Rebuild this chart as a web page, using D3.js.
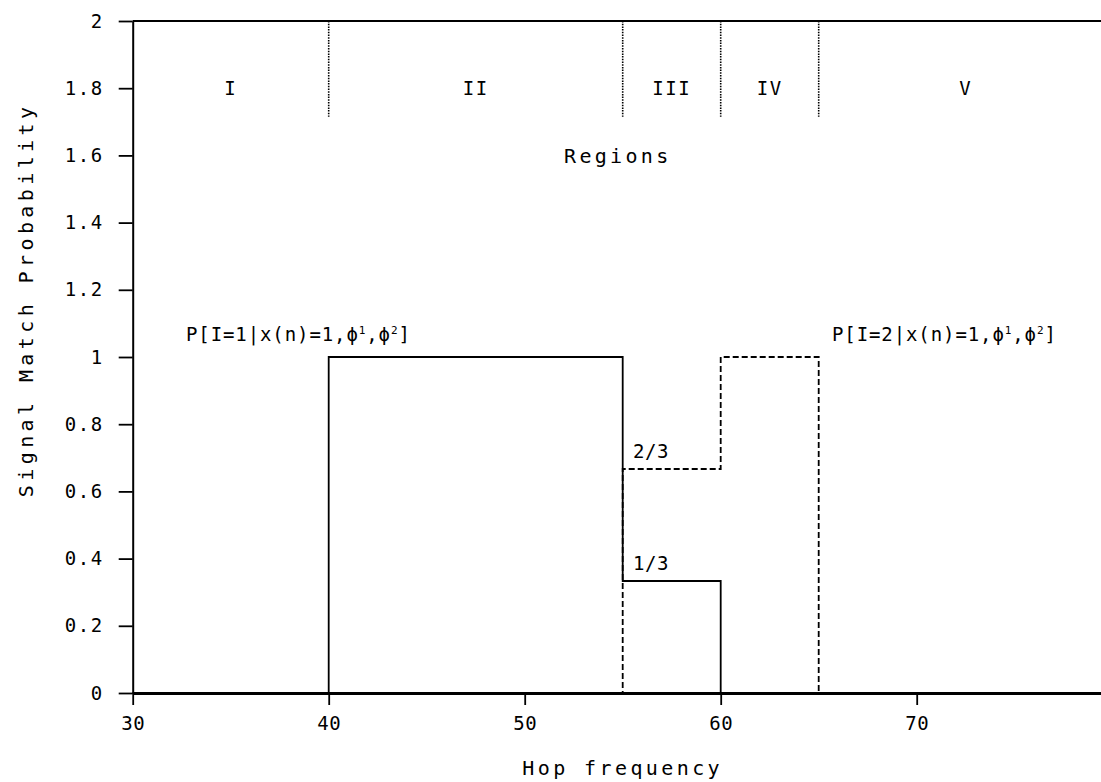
<!DOCTYPE html>
<html>
<head>
<meta charset="utf-8">
<script src="https://cdn.jsdelivr.net/npm/d3@7"></script>
<style>
  html, body { margin: 0; padding: 0; background: #fff; }
  svg { display: block; }
  text { font-family: "DejaVu Sans Mono", "Liberation Mono", monospace; fill: #000; }
</style>
</head>
<body>
<svg id="chart" width="1101" height="782"></svg>
<script>
// ---- data ----
const xDomain = [30, 80];
const yDomain = [0, 2];
const xTickValues = [30, 40, 50, 60, 70];
const yTickValues = [0, 0.2, 0.4, 0.6, 0.8, 1, 1.2, 1.4, 1.6, 1.8, 2];
const regionBounds = [40, 55, 60, 65];
const regionLabels = ["I", "II", "III", "IV", "V"];
const regionCenters = [35, 47.5, 57.5, 62.5, 72.5];
// P[I=1|...] step function (value holds from x until next x)
const series1X = [30, 40, 55, 60, 80];
const series1Y = [0, 1, 1/3, 0, 0];
// P[I=2|...]
const series2X = [30, 55, 60, 65, 80];
const series2Y = [0, 2/3, 1, 0, 0];
const fractionLabels = [
  { text: "2/3", x: 55.5, y: 2/3 },
  { text: "1/3", x: 55.5, y: 1/3 }
];

// ---- scales ----
const svg = d3.select("#chart");
const x = d3.scaleLinear().domain(xDomain).range([132.7, 1112.7]);
const y = d3.scaleLinear().domain(yDomain).range([693, 21]);

// frame top / right
svg.append("line")
  .attr("x1", x(30)).attr("x2", x(80))
  .attr("y1", y(2)).attr("y2", y(2))
  .attr("stroke", "#000").attr("stroke-width", 1.8);
svg.append("line")
  .attr("x1", x(80)).attr("x2", x(80))
  .attr("y1", y(2)).attr("y2", y(0))
  .attr("stroke", "#000").attr("stroke-width", 1.8);

// ---- axes ----
const xAxis = d3.axisBottom(x)
  .tickValues(xTickValues)
  .tickSize(12)
  .tickSizeOuter(0)
  .tickPadding(12)
  .tickFormat(d3.format("d"));
const gx = svg.append("g").attr("transform", `translate(0,${y(0)})`).call(xAxis);
gx.select(".domain").attr("stroke-width", 3);
gx.selectAll(".tick line").attr("stroke-width", 1.8);
gx.selectAll(".tick text")
  .style("font-size", "19px").style("letter-spacing", "0.5px")
  .attr("font-family", null);

const yAxis = d3.axisLeft(y)
  .tickValues(yTickValues)
  .tickSize(14)
  .tickSizeOuter(0)
  .tickPadding(15)
  .tickFormat(d => d3.format("~g")(d));
const gy = svg.append("g").attr("transform", `translate(${x(30)},0)`).call(yAxis);
gy.select(".domain").attr("stroke-width", 2);
gy.selectAll(".tick line").attr("stroke-width", 1.8);
gy.selectAll(".tick text")
  .style("font-size", "19px").style("letter-spacing", "1.5px")
  .attr("font-family", null);

// axis titles
svg.append("text")
  .attr("x", x(55)).attr("y", 775)
  .attr("text-anchor", "middle")
  .style("font-size", "20px").style("letter-spacing", "3.4px")
  .text("Hop frequency");
svg.append("text")
  .attr("transform", `translate(33,${y(1.17)}) rotate(-90)`)
  .attr("text-anchor", "middle")
  .style("font-size", "20px").style("letter-spacing", "4.4px")
  .text("Signal Match Probability");

// ---- region dividers ----
svg.selectAll(".region-line")
  .data(regionBounds)
  .enter().append("line")
  .attr("class", "region-line")
  .attr("x1", d => x(d)).attr("x2", d => x(d))
  .attr("y1", y(2)).attr("y2", y(1.715))
  .attr("stroke", "#000").attr("stroke-width", 1.6)
  .attr("stroke-dasharray", "1.5,1.2");

svg.selectAll(".region-label")
  .data(regionLabels)
  .enter().append("text")
  .attr("class", "region-label")
  .attr("x", (d, i) => x(regionCenters[i]))
  .attr("y", y(1.8))
  .attr("dy", "0.36em")
  .attr("text-anchor", "middle")
  .style("font-size", "19px").style("letter-spacing", "1.5px")
  .text(d => d);

svg.append("text")
  .attr("x", x(54.75)).attr("y", y(1.6))
  .attr("dy", "0.36em")
  .attr("text-anchor", "middle")
  .style("font-size", "20px").style("letter-spacing", "3.3px")
  .text("Regions");

// ---- step lines ----
const line = d3.line()
  .x(d => x(d[0]))
  .y(d => y(d[1]))
  .curve(d3.curveStepAfter);

const s2 = series2X.map((v, i) => [v, series2Y[i]]);
const s1 = series1X.map((v, i) => [v, series1Y[i]]);

svg.append("path")
  .attr("d", line(s2))
  .attr("fill", "none").attr("stroke", "#000").attr("stroke-width", 1.8)
  .attr("stroke-dasharray", "6,3");
svg.append("path")
  .attr("d", line(s1))
  .attr("fill", "none").attr("stroke", "#000").attr("stroke-width", 1.8);

// ---- annotations ----
function probLabel(sel, classNum) {
  sel.append("tspan").text(`P[I=${classNum}|x(n)=1,\u03D5`);
  sel.append("tspan").attr("dy", -7).style("font-size", "11px").text("1");
  sel.append("tspan").attr("dy", 7).text(",\u03D5");
  sel.append("tspan").attr("dy", -7).style("font-size", "11px").text("2");
  sel.append("tspan").attr("dy", 7).text("]");
}
const a1 = svg.append("text")
  .attr("x", 186).attr("y", 341)
  .style("font-size", "19px").style("letter-spacing", "0.9px");
probLabel(a1, 1);
const a2 = svg.append("text")
  .attr("x", 832).attr("y", 341)
  .style("font-size", "19px").style("letter-spacing", "0.9px");
probLabel(a2, 2);

svg.selectAll(".frac")
  .data(fractionLabels)
  .enter().append("text")
  .attr("class", "frac")
  .attr("x", d => x(d.x) + 0.5)
  .attr("y", d => y(d.y) - 11)
  .style("font-size", "19px").style("letter-spacing", "0.5px")
  .text(d => d.text);
</script>
</body>
</html>
